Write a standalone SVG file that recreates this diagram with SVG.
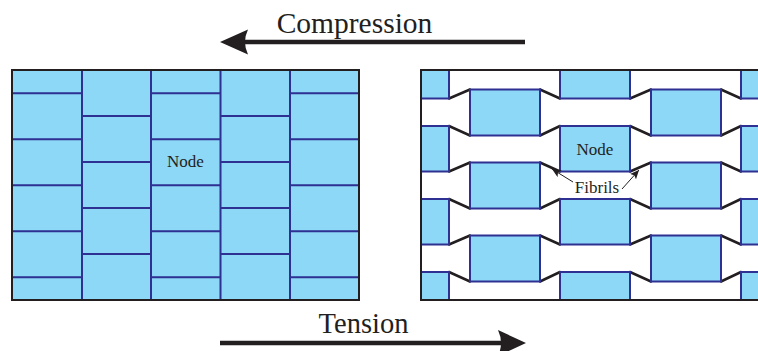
<svg xmlns="http://www.w3.org/2000/svg" width="758" height="351" viewBox="0 0 758 351">
<style>
.txt{font-family:"Liberation Serif","Times New Roman",serif;fill:#231f20}
.brick{fill:#8dd7f7;stroke:#2e3192;stroke-width:2}
.bl{fill:none;stroke:#2e3192;stroke-width:2}
.frame{fill:none;stroke:#231f20;stroke-width:2}
.fib{fill:none;stroke:#231f20;stroke-width:2.5;stroke-linecap:round}
.thin{fill:none;stroke:#231f20;stroke-width:1}
.big{fill:none;stroke:#231f20;stroke-width:4.5}
.head{fill:#231f20}
</style>
<defs>
<clipPath id="rc"><rect x="421" y="70" width="337" height="230"/></clipPath>
<marker id="sm" markerWidth="10" markerHeight="8" refX="9" refY="4" orient="auto" markerUnits="userSpaceOnUse">
<path d="M0,0 L9,4 L0,8 L2,4 Z" fill="#231f20"/>
</marker>
</defs>

<g id="compressed-panel">
<rect x="12" y="70" width="347" height="230" fill="#8dd7f7"/>
<path class="bl" d="M82,70V300M151,70V300M220.5,70V300M290,70V300"/>
<path class="bl" d="M12,93.3H82M12,139.3H82M12,185.3H82M12,231.3H82M12,277.3H82
M151,93.3H220.5M151,139.3H220.5M151,185.3H220.5M151,231.3H220.5M151,277.3H220.5
M290,93.3H359M290,139.3H359M290,185.3H359M290,231.3H359M290,277.3H359
M82,116H151M82,162H151M82,208H151M82,254H151
M220.5,116H290M220.5,162H290M220.5,208H290M220.5,254H290"/>
<rect class="frame" x="12" y="70" width="347" height="230"/>
<text id="node-left" class="txt" x="185.5" y="167" font-size="17" text-anchor="middle">Node</text>
</g>

<g id="tension-panel">
<g clip-path="url(#rc)">
<g id="connectors">
<path class="fib" d="
M470,89.5L449,98.5M470,135.5L449,126M540,89.5L560,98.5M540,135.5L560,126
M470,162.5L449,171.5M470,208.5L449,199M540,162.5L560,171.5M540,208.5L560,199
M470,235.5L449,244.5M470,281.5L449,272M540,235.5L560,244.5M540,281.5L560,272
M651,89.5L630,98.5M651,135.5L630,126M721,89.5L741,98.5M721,135.5L741,126
M651,162.5L630,171.5M651,208.5L630,199M721,162.5L741,171.5M721,208.5L741,199
M651,235.5L630,244.5M651,281.5L630,272M721,235.5L741,244.5M721,281.5L741,272"/>
</g>
<g id="blocks">
<rect class="brick" x="379" y="53" width="70" height="45.5"/>
<rect class="brick" x="379" y="126" width="70" height="45.5"/>
<rect class="brick" x="379" y="199" width="70" height="45.5"/>
<rect class="brick" x="379" y="272" width="70" height="45.5"/>
<rect class="brick" x="470" y="89.5" width="70" height="46"/>
<rect class="brick" x="470" y="162.5" width="70" height="46"/>
<rect class="brick" x="470" y="235.5" width="70" height="46"/>
<rect class="brick" x="560" y="53" width="70" height="45.5"/>
<rect id="node-right" class="brick" x="560" y="126" width="70" height="45.5"/>
<rect class="brick" x="560" y="199" width="70" height="45.5"/>
<rect class="brick" x="560" y="272" width="70" height="45.5"/>
<rect class="brick" x="651" y="89.5" width="70" height="46"/>
<rect class="brick" x="651" y="162.5" width="70" height="46"/>
<rect class="brick" x="651" y="235.5" width="70" height="46"/>
<rect class="brick" x="741" y="53" width="70" height="45.5"/>
<rect class="brick" x="741" y="126" width="70" height="45.5"/>
<rect class="brick" x="741" y="199" width="70" height="45.5"/>
<rect class="brick" x="741" y="272" width="70" height="45.5"/>
</g>
</g>
<path class="frame" d="M758,70H421V300H758"/>
<text class="txt" x="595" y="155" font-size="17" text-anchor="middle">Node</text>
<g id="fibrils-label">
<text class="txt" x="597" y="193" font-size="17" text-anchor="middle">Fibrils</text>
<path class="thin" d="M573,182L552,169" marker-end="url(#sm)"/>
<path class="thin" d="M622,189L639,170" marker-end="url(#sm)"/>
</g>
</g>

<g id="compression-arrow">
<text class="txt" x="354.5" y="33" font-size="29.5" text-anchor="middle">Compression</text>
<path class="big" d="M525,42H244"/>
<path class="head" d="M220,42L248,29.5Q242,42 248,54.5Z"/>
</g>

<g id="tension-arrow">
<text class="txt" x="363.5" y="333" font-size="28.5" text-anchor="middle">Tension</text>
<path class="big" d="M220,343H502"/>
<path class="head" d="M526,343L498,330Q504,343 498,356Z"/>
</g>
</svg>
